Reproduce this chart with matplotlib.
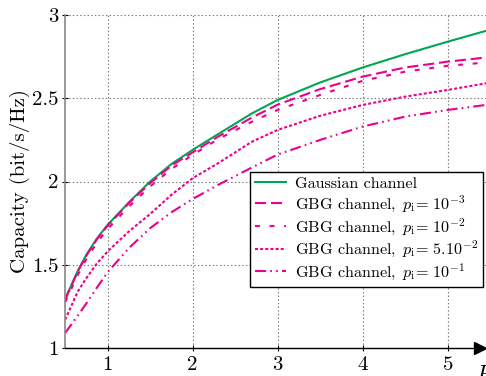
import numpy as np
import matplotlib
matplotlib.use('Agg')
from matplotlib import pyplot as plt

plt.rcParams['font.family'] = ['cmr10', 'DejaVu Serif']
plt.rcParams['mathtext.fontset'] = 'cm'
plt.rcParams['axes.formatter.use_mathtext'] = True
plt.rcParams['lines.scale_dashes'] = False

# values
P = [0.5, 0.65, 0.75, 0.87, 1.0, 1.25, 1.5, 1.75, 2.0, 2.3, 2.7, 3.0, 3.5, 4.0, 4.5, 5.0, 5.45]
gauss = [1.295, 1.465, 1.56, 1.655, 1.74, 1.875, 2.0, 2.105, 2.19, 2.285, 2.41, 2.49, 2.595, 2.685, 2.765, 2.84, 2.905]
gbg_1e3 = [1.29, 1.46, 1.555, 1.65, 1.735, 1.87, 1.99, 2.095, 2.175, 2.27, 2.385, 2.462, 2.555, 2.63, 2.685, 2.72, 2.745]
gbg_1e2 = [1.275, 1.44, 1.535, 1.63, 1.715, 1.85, 1.97, 2.075, 2.16, 2.255, 2.36, 2.43, 2.52, 2.605, 2.66, 2.695, 2.715]
gbg_5e2 = [1.17, 1.34, 1.42, 1.505, 1.58, 1.70, 1.805, 1.92, 2.02, 2.11, 2.24, 2.31, 2.395, 2.46, 2.51, 2.55, 2.59]
gbg_1e1 = [1.09, 1.195, 1.268, 1.36, 1.455, 1.60, 1.72, 1.815, 1.895, 1.98, 2.085, 2.162, 2.25, 2.33, 2.39, 2.43, 2.46]

labels = ['Gaussian channel',
          r'GBG channel, $\,p_{\rm i}$= $10^{-3}$',
          r'GBG channel, $\,p_{\rm i}$= $10^{-2}$',
          r'GBG channel, $\,p_{\rm i}$= $5.10^{-2}$',
          r'GBG channel, $\,p_{\rm i}$= $10^{-1}$']
yticks = [1, 1.5, 2, 2.5, 3]
ytick_labels = ['1', '1.5', '2', '2.5', '3']
xticks = [1, 2, 3, 4, 5]

green = '#00a651'
pink = '#ec008c'

fig = plt.figure(figsize=(4.86, 3.76), dpi=100)
ax = fig.add_axes([0.134, 0.0745, 0.866, 0.8855])

ax.plot(P, gauss, color=green, lw=1.5, label=labels[0])
ax.plot(P, gbg_1e3, color=pink, lw=1.5, ls=(0, (8, 3.5)), label=labels[1])
ax.plot(P, gbg_1e2, color=pink, lw=1.5, ls=(0, (3.5, 7)), label=labels[2])
ax.plot(P, gbg_5e2, color=pink, lw=1.5, ls=(0, (2.2, 1.5)), label=labels[3])
ax.plot(P, gbg_1e1, color=pink, lw=1.5, ls=(0, (8, 3, 1.2, 3, 1.2, 3)), label=labels[4])

ax.set_xlim(0.5, 5.45)
ax.set_ylim(1, 3)
ax.set_xticks(xticks)
ax.set_xticklabels([str(t) for t in xticks])
ax.set_yticks(yticks)
ax.set_yticklabels(ytick_labels)
ax.tick_params(labelsize=15, direction='inout', length=5, width=0.8)
ax.tick_params(axis='y', pad=2)
ax.grid(True, ls=':', color='#777777', lw=0.8)

for s in ['top', 'right']:
    ax.spines[s].set_visible(False)
ax.spines['left'].set_color('#888888')
ax.spines['left'].set_linewidth(1.2)
ax.spines['bottom'].set_linewidth(1.0)
ax.plot(0.985, 0, '>k', ms=8, transform=ax.transAxes, clip_on=False)

ax.set_ylabel('Capacity (bit/s/Hz)', fontsize=15, labelpad=2)
ax.text(0.975, -0.085, '$P$', transform=ax.transAxes, fontsize=17, ha='left', va='center')

leg = ax.legend(loc='upper left', bbox_to_anchor=(0.44, 0.5285), fontsize=11.6,
                fancybox=False, framealpha=1, edgecolor='black',
                handlelength=1.9, labelspacing=0.14, borderpad=0.3, handletextpad=0.55,
                borderaxespad=0)
leg.get_frame().set_linewidth(1.0)

fig.savefig('out.png', dpi=100)
